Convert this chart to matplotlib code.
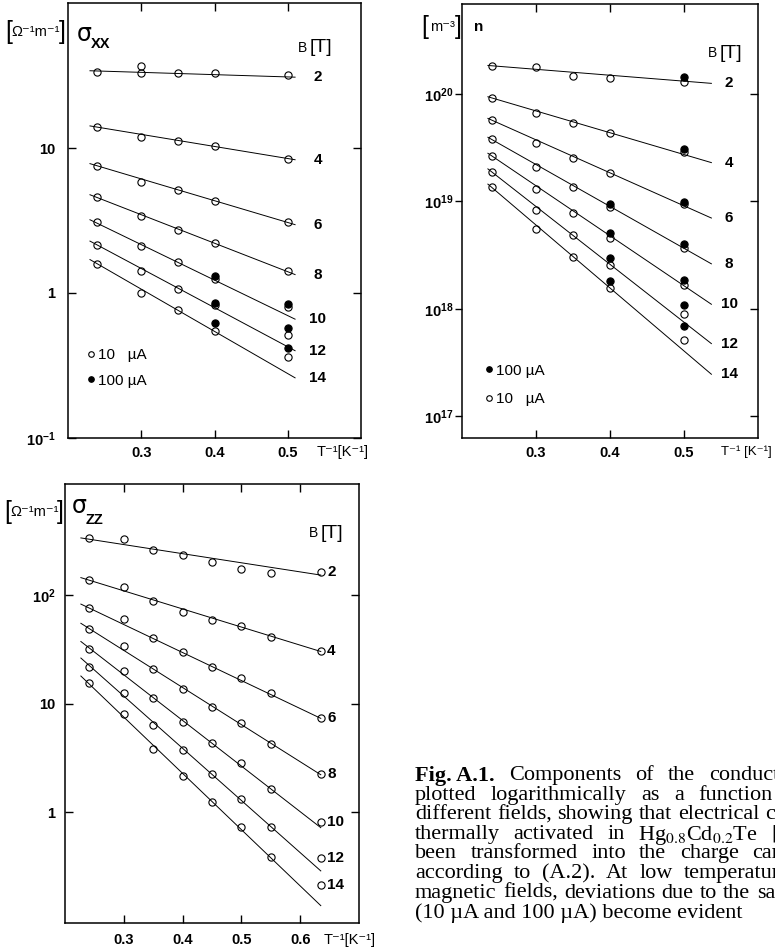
import numpy as np
import matplotlib
matplotlib.use("Agg")
import matplotlib.pyplot as plt
from matplotlib.lines import Line2D
from matplotlib.ticker import NullLocator, FixedLocator, FixedFormatter

plt.rcParams['mathtext.fontset'] = 'custom'
plt.rcParams['mathtext.rm'] = 'Liberation Sans:bold'
plt.rcParams['mathtext.it'] = 'Liberation Sans:italic'
plt.rcParams['mathtext.bf'] = 'Liberation Sans:bold'
plt.rcParams['font.family'] = ['Liberation Sans', 'DejaVu Sans']

# ---------------- data ----------------
FIELDS = [2, 4, 6, 8, 10, 12, 14]

# sigma_xx [Ohm^-1 m^-1]
XX_T = [0.24, 0.30, 0.35, 0.40, 0.50]
XX_10uA = [
    [33.3, 33.0, 33.0, 32.8, 31.7],
    [13.9, 12.0, 11.1, 10.3, 8.4],
    [7.5, 5.8, 5.1, 4.3, 3.07],
    [4.57, 3.38, 2.74, 2.21, 1.42],
    [3.07, 2.10, 1.63, 1.24, 0.80],
    [2.15, 1.41, 1.07, 0.82, 0.51],
    [1.59, 1.00, 0.76, 0.55, 0.36],
]
XX_EXTRA_T = [0.30]
XX_EXTRA = [37.0]
XX_100uA_T = [[], [], [], [], [0.40, 0.50], [0.40, 0.50], [0.40, 0.50]]
XX_100uA = [[], [], [], [], [1.32, 0.84], [0.85, 0.57], [0.62, 0.42]]
XX_FIT_T = [0.23, 0.51]
XX_FIT_START = [34.1, 14.2, 7.8, 4.76, 3.2, 2.28, 1.70]
XX_FIT_END = [30.8, 8.3, 2.96, 1.34, 0.66, 0.40, 0.26]

# n [m^-3]
N_T = [0.24, 0.30, 0.35, 0.40, 0.50]
N_10uA = [
    [1.82e20, 1.80e20, 1.49e20, 1.42e20, 1.30e20],
    [9.25e19, 6.6e19, 5.35e19, 4.32e19, 2.87e19],
    [5.73e19, 3.48e19, 2.55e19, 1.83e19, 9.5e18],
    [3.79e19, 2.11e19, 1.35e19, 8.85e18, 3.69e18],
    [2.66e19, 1.30e19, 7.8e18, 4.57e18, 1.68e18],
    [1.90e19, 8.4e18, 4.83e18, 2.55e18, 8.9e17],
    [1.36e19, 5.5e18, 3.04e18, 1.55e18, 5.1e17],
]
N_100uA_T = [[0.50], [0.50], [0.50], [0.40, 0.50], [0.40, 0.50], [0.40, 0.50], [0.40, 0.50]]
N_100uA = [[1.43e20], [3.08e19], [9.8e18], [9.5e18, 4.0e18], [5.08e18, 1.87e18],
           [2.96e18, 1.08e18], [1.83e18, 6.9e17]]
N_FIT_T = [0.235, 0.537]
N_FIT_START = [1.85e20, 9.45e19, 5.94e19, 3.96e19, 2.81e19, 2.01e19, 1.45e19]
N_FIT_END = [1.26e20, 2.30e19, 7.0e18, 2.62e18, 1.10e18, 4.73e17, 2.45e17]

# sigma_zz [Ohm^-1 m^-1]
ZZ_T = [0.24, 0.30, 0.35, 0.40, 0.45, 0.50, 0.55, 0.635]
ZZ_10uA = [
    [334, 325, 258, 231, 202, 173, 159, 162],
    [138, 119, 87.5, 68.9, 58.2, 51.7, 41.3, 30.1],
    [75.5, 59.5, 40.2, 29.7, 21.8, 17.3, 12.6, 7.39],
    [48.2, 33.7, 20.6, 13.7, 9.33, 6.57, 4.25, 2.24],
    [31.6, 19.9, 11.2, 6.8, 4.36, 2.83, 1.63, 0.817],
    [21.6, 12.5, 6.38, 3.74, 2.23, 1.33, 0.735, 0.377],
    [15.5, 7.98, 3.8, 2.13, 1.24, 0.73, 0.388, 0.213],
]
ZZ_FIT_T = [0.227, 0.635]
ZZ_FIT_START = [334, 144, 82.2, 54.7, 37.2, 26.2, 17.9]
ZZ_FIT_END = [152, 30.1, 7.3, 2.21, 0.72, 0.288, 0.138]

XX_XTICKS = [0.3, 0.4, 0.5]
XX_YTICKS = [0.1, 1, 10]
XX_YLABELS = [r'$\mathregular{10^{-1}}$', '1', '10']
N_YTICKS = [1e17, 1e18, 1e19, 1e20]
N_YLABELS = [r'$\mathregular{10^{17}}$', r'$\mathregular{10^{18}}$',
             r'$\mathregular{10^{19}}$', r'$\mathregular{10^{20}}$']
ZZ_XTICKS = [0.3, 0.4, 0.5, 0.6]
ZZ_YTICKS = [1, 10, 100]
ZZ_YLABELS = ['1', '10', r'$\mathregular{10^{2}}$']

# ---------------- figure ----------------
W, H = 775, 950
fig = plt.figure(figsize=(W / 100, H / 100), dpi=100)


def box(l, t, r, b):
    return [l / W, 1 - b / H, (r - l) / W, (b - t) / H]


def fx(px):
    return px / W


def fy(py):
    return 1 - py / H


TICKFS = 10.5
OPEN = dict(ls='none', marker='o', ms=5.2, mfc='none', mec='k', mew=0.8)
FILL = dict(ls='none', marker='o', ms=5.2, mfc='k', mec='k', mew=0.8)


def style_axes(ax, xlim, ylim, xticks, yticks, ylabels, ypad, xpad, left_dir='in'):
    ax.set_yscale('log')
    ax.set_xlim(*xlim)
    ax.set_ylim(*ylim)
    ax.xaxis.set_major_locator(FixedLocator(xticks))
    ax.xaxis.set_major_formatter(FixedFormatter(['%.1f' % v for v in xticks]))
    ax.yaxis.set_major_locator(FixedLocator(yticks))
    ax.yaxis.set_major_formatter(FixedFormatter(ylabels))
    ax.yaxis.set_minor_locator(NullLocator())
    ax.xaxis.set_minor_locator(NullLocator())
    for s in ax.spines.values():
        s.set_linewidth(1.1)
    ax.tick_params(axis='x', direction='in', top=True, bottom=True, length=6,
                   width=1.0, pad=xpad, labelsize=TICKFS)
    if left_dir == 'in':
        ax.tick_params(axis='y', direction='in', left=True, right=True, length=6,
                       width=1.0, pad=ypad, labelsize=TICKFS)
    else:
        ax.tick_params(axis='y', direction='out', left=True, right=False, length=5,
                       width=1.0, pad=ypad, labelsize=TICKFS)
        tw = ax.twinx()
        tw.set_yscale('log')
        tw.set_ylim(*ylim)
        tw.yaxis.set_major_locator(FixedLocator(yticks))
        tw.yaxis.set_minor_locator(NullLocator())
        tw.tick_params(axis='y', direction='in', right=True, length=6, width=1.0,
                       labelright=False)
        for s in tw.spines.values():
            s.set_visible(False)
    for lab in ax.get_xticklabels() + ax.get_yticklabels():
        lab.set_fontweight('bold')


def draw_series(ax, T, opens, fill_T, fills, fitT, fstart, fend, lab_x, lab_y, lab_ha):
    for i, B in enumerate(FIELDS):
        ax.plot(fitT, [fstart[i], fend[i]], color='k', lw=0.7)
        ax.plot(T, opens[i], **OPEN)
        if fill_T is not None and len(fill_T[i]):
            ax.plot(fill_T[i], fills[i], **FILL)
        ax.text(lab_x, lab_y[i], str(B), ha=lab_ha, va='center', fontsize=11,
                fontweight='bold')


# ----- panel 1: sigma_xx -----
ax1 = fig.add_axes(box(68, 3, 361, 438))
style_axes(ax1, (0.2, 0.6), (0.1, 100), XX_XTICKS, XX_YTICKS, XX_YLABELS, ypad=9, xpad=6)
draw_series(ax1, XX_T, XX_10uA, XX_100uA_T, XX_100uA, XX_FIT_T, XX_FIT_START,
            XX_FIT_END, 0.541, XX_FIT_END, 'center')
ax1.plot(XX_EXTRA_T, XX_EXTRA, **OPEN)

# ----- panel 2: n -----
ax2 = fig.add_axes(box(462, 4, 758, 438))
style_axes(ax2, (0.2, 0.6), (10 ** 16.795, 10 ** 20.84), XX_XTICKS, N_YTICKS, N_YLABELS,
           ypad=1, xpad=6, left_dir='out')
draw_series(ax2, N_T, N_10uA, N_100uA_T, N_100uA, N_FIT_T, N_FIT_START, N_FIT_END,
            0.561, N_FIT_END, 'center')

# ----- panel 3: sigma_zz -----
ax3 = fig.add_axes(box(65, 484, 359, 923))
style_axes(ax3, (0.2, 0.7), (10 ** -1.02, 10 ** 3.02), ZZ_XTICKS, ZZ_YTICKS, ZZ_YLABELS,
           ypad=7, xpad=7)
draw_series(ax3, ZZ_T, ZZ_10uA, None, None, ZZ_FIT_T, ZZ_FIT_START, ZZ_FIT_END,
            0.646, [row[-1] for row in ZZ_10uA], 'left')

# ----- annotations -----
SANS = ['Liberation Sans', 'DejaVu Sans']


def unit_label(x0, x1, y, inner, fs=10.5):
    fig.text(fx(x0), fy(y), '[', fontsize=18, ha='left', va='center', family=SANS)
    fig.text(fx((x0 + x1) / 2 + 0.5), fy(y), inner, fontsize=fs, ha='center',
             va='center', family=SANS)
    fig.text(fx(x1), fy(y), ']', fontsize=18, ha='right', va='center', family=SANS)


unit_label(5, 66, 32, 'Ω⁻¹m⁻¹')
unit_label(421, 462, 27, 'm⁻³')
unit_label(4, 64, 512, 'Ω⁻¹m⁻¹')

fig.text(fx(77), fy(34), 'σ', fontsize=17, ha='left', va='center', family=['DejaVu Sans'])
fig.text(fx(91), fy(44), 'XX', fontsize=10.5, ha='left', va='center', fontweight='bold')
fig.text(fx(474), fy(27), 'n', fontsize=11, ha='left', va='center', fontweight='bold')
fig.text(fx(72), fy(506), 'σ', fontsize=17, ha='left', va='center', family=['DejaVu Sans'])
fig.text(fx(86), fy(520), 'ZZ', fontsize=10.5, ha='left', va='center', fontweight='bold')


def b_label(x, y):
    fig.text(fx(x), fy(y), 'B', fontsize=10, ha='left', va='center')
    fig.text(fx(x + 12), fy(y), '[T]', fontsize=14, ha='left', va='center')


b_label(298, 48)
b_label(708, 53)
b_label(309, 533)

fig.text(fx(317), fy(452), 'T⁻¹[K⁻¹]', fontsize=10.5, ha='left', va='center', family=SANS)
fig.text(fx(721), fy(452), 'T⁻¹ [K⁻¹]', fontsize=9.5, ha='left', va='center', family=SANS)
fig.text(fx(324), fy(940), 'T⁻¹[K⁻¹]', fontsize=10.5, ha='left', va='center', family=SANS)

h_open = Line2D([], [], ls='none', marker='o', ms=4, mfc='none', mec='k', mew=0.8)
h_fill = Line2D([], [], ls='none', marker='o', ms=4, mfc='k', mec='k', mew=0.8)
leg_kw = dict(frameon=False, handlelength=0.4, handletextpad=0.25, borderpad=0,
              borderaxespad=0, fontsize=11, loc='center left',
              bbox_transform=fig.transFigure)
ax1.legend([h_open, h_fill], ['10   µA', '100 µA'], bbox_to_anchor=(fx(88), fy(368)),
           labelspacing=0.75, **leg_kw)
ax2.legend([h_fill, h_open], ['100 µA', '10   µA'], bbox_to_anchor=(fx(486), fy(385)),
           labelspacing=0.95, **leg_kw)

# ----- caption (justified lines, cut by the right edge) -----
CFS = 16
SERIF = ['Liberation Serif', 'DejaVu Serif']
cap_lines = [
    ([('Fig. A.1.', 'bold'), ('Components', 'normal'), ('of', 'normal'),
      ('the', 'normal'), ('conductivity', 'normal')], 14),
    ([('plotted', 'normal'), ('logarithmically', 'normal'), ('as', 'normal'),
      ('a', 'normal'), ('function', 'normal')], 14.5),
    ([('different', 'normal'), ('fields,', 'normal'), ('showing', 'normal'),
      ('that', 'normal'), ('electrical', 'normal'), ('conduction', 'normal')], 5.8),
    ([('thermally', 'normal'), ('activated', 'normal'), ('in', 'normal'),
      (r'Hg$_{0.8}$Cd$_{0.2}$Te', 'normal'), ('[A.1].', 'normal')], 13.5),
    ([('been', 'normal'), ('transformed', 'normal'), ('into', 'normal'),
      ('the', 'normal'), ('charge', 'normal'), ('carrier', 'normal')], 13.5),
    ([('according', 'normal'), ('to', 'normal'), ('(A.2).', 'normal'),
      ('At', 'normal'), ('low', 'normal'), ('temperatures', 'normal')], 11),
    ([('magnetic', 'normal'), ('fields,', 'normal'), ('deviations', 'normal'),
      ('due', 'normal'), ('to', 'normal'), ('the', 'normal'), ('sample', 'normal')], 6.3),
    ([('(10 µA and 100 µA) become evident', 'normal')], 5),
]
renderer = fig.canvas.get_renderer()
for k, (words, gap) in enumerate(cap_lines):
    y = 773 + 19.6 * k
    x = 415
    for w, wt in words:
        t = fig.text(fx(x), fy(y), w, fontsize=CFS, ha='left', va='center_baseline',
                     family=SERIF, fontweight=wt, math_fontfamily='stix')
        x += t.get_window_extent(renderer).width + gap

fig.savefig('out.png', dpi=100)
